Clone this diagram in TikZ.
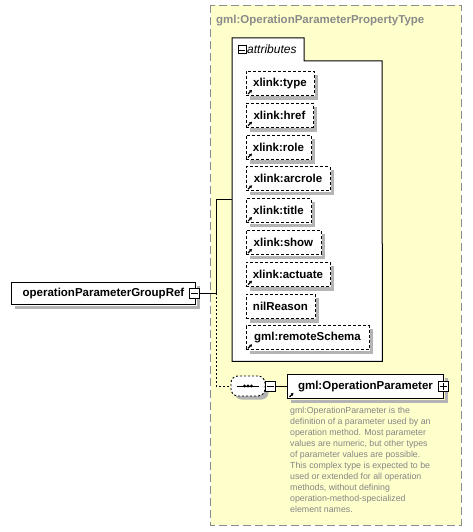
\documentclass[tikz,border=0pt]{standalone}
\usepackage{fontspec}
\setmainfont{Liberation Sans}
\usetikzlibrary{arrows.meta,calc}
\definecolor{boxyellow}{HTML}{FFFFCC}
\definecolor{bordergray}{HTML}{8C8C8C}
\definecolor{titlegray}{HTML}{8A8A8A}
\definecolor{descgray}{HTML}{858585}
\definecolor{shadowgray}{HTML}{B4B4B4}
\tikzset{
  elem/.style={draw=black,fill=white,anchor=north west,inner sep=0pt,minimum height=24,line width=0.9pt,
    font=\bfseries\fontsize{11.5}{13}\selectfont},
  attr/.style={elem,dash pattern=on 3pt off 2pt,minimum height=24},
  refarrow/.style={-{Triangle[length=2.6pt,width=3pt]},line width=1.2pt},
  btn/.style={draw=black,fill=white,line width=1pt,minimum size=10,inner sep=0pt,anchor=center},
  conn/.style={draw=black,line width=0.8pt},
  dconn/.style={draw=black,line width=0.8pt,dash pattern=on 2pt off 2pt},
  shadowfill/.style={fill=shadowgray,draw=none},
}
\newcommand{\refmark}[1]{\draw[refarrow] ($(#1.south west)+(2.5,-2)$) -- ++(4,-4);}
\newcommand{\shadowof}[1]{%
  \fill[shadowfill] ($(#1.north east)+(0.6,4)$) rectangle ($(#1.south east)+(4,4)$);
  \fill[shadowfill] ($(#1.south west)+(4,0.6)$) rectangle ($(#1.south east)+(4,4)$);}
\begin{document}
\begin{tikzpicture}[x=1pt,y=-1pt]
\useasboundingbox (0,0) rectangle (472,532);
% outer complex type box
\draw[bordergray,fill=boxyellow,line width=0.9pt,dash pattern=on 8pt off 4pt] (210.5,5.5) rectangle (461,525);
\node[anchor=north west,inner sep=0pt,text=titlegray,font=\bfseries\fontsize{11.5}{13}\selectfont] (title) at (216,14.5) {gml:OperationParameterPropertyType};
% attributes box
\node[anchor=north west,minimum width=150,minimum height=323,inner sep=0pt] (attrs) at (232,38) {};
\draw[black,fill=white,line width=1pt] (attrs.north west) -- (304,38) -- (304,61) -- (382,61) -- (attrs.south east) -- (attrs.south west) -- cycle;
\node[btn,minimum size=8] (abtn) at (242,50) {};
\draw[line width=0.9pt] ($(abtn.west)+(1.5,0)$) -- ($(abtn.east)+(-1.5,0)$);
\node[anchor=west,inner sep=0pt,font=\itshape\fontsize{12}{14}\selectfont] (atitle) at (247,49.5) {attributes};
% attribute elements
\node[attr,minimum width=68] (a1) at (245.5,71) {xlink:type};
\node[attr,minimum width=67] (a2) at (245.5,102.8) {xlink:href};
\node[attr,minimum width=65] (a3) at (245.5,134.6) {xlink:role};
\node[attr,minimum width=84] (a4) at (245.5,166.4) {xlink:arcrole};
\node[attr,minimum width=65] (a5) at (245.5,198.2) {xlink:title};
\node[attr,minimum width=75] (a6) at (245.5,230) {xlink:show};
\node[attr,minimum width=84] (a7) at (245.5,261.8) {xlink:actuate};
\node[attr,minimum width=69] (a8) at (245.5,293.6) {nilReason};
\node[attr,minimum width=123] (a9) at (245.5,325.4) {gml:remoteSchema};
\foreach \n in {a1,a2,a3,a4,a5,a6,a7,a8,a9} {\shadowof{\n}}
\foreach \n in {a1,a2,a3,a4,a5,a6,a7,a9} {\refmark{\n}}
% group reference element
\node[elem,minimum width=184,minimum height=22] (grp) at (11,282) {operationParameterGroupRef};
\shadowof{grp}
\node[btn] (gbtn) at (194.5,293) {};
\draw[line width=0.9pt] ($(gbtn.west)+(2,0)$) -- ($(gbtn.east)+(-2,0)$);
\coordinate (junc) at (216,293);
% sequence compositor
\fill[shadowgray,rounded corners=7pt] (234.5,379.5) rectangle (268.5,399.5);
\node[draw=black,fill=white,line width=0.9pt,dash pattern=on 2pt off 2pt,rounded corners=7pt,minimum width=34,minimum height=20,inner sep=0pt,anchor=north west] (seq) at (230.5,375.5) {};
\draw[line width=0.9pt] ($(seq.west)+(6,0)$) -- ($(seq.east)+(-6,0)$);
\foreach \dx in {-3.5,0,3.5} {\fill ($(seq.center)+(\dx,0)$) circle (1.6pt);}
\node[btn] (sbtn) at (270,386.5) {};
\draw[line width=0.9pt] ($(sbtn.west)+(2,0)$) -- ($(sbtn.east)+(-2,0)$);
% gml:OperationParameter element
\node[elem,minimum width=156,minimum height=24] (op) at (287,374) {gml:OperationParameter};
\shadowof{op}
\refmark{op}
\node[btn] (obtn) at (443.5,386.5) {};
\draw[line width=0.9pt] ($(obtn.west)+(2,0)$) -- ($(obtn.east)+(-2,0)$);
\draw[line width=0.9pt] ($(obtn.north)+(0,2)$) -- ($(obtn.south)+(0,-2)$);
% description
\node[anchor=north west,inner sep=0pt,align=left,text=descgray,font=\fontsize{8.8}{11}\selectfont] (desc) at (290,407) {gml:OperationParameter is the\\definition of a parameter used by an\\operation method. Most parameter\\values are numeric, but other types\\of parameter values are possible.\\This complex type is expected to be\\used or extended for all operation\\methods, without defining\\operation-method-specialized\\element names.};
% connectors
\draw[conn] (gbtn.east) -- (junc) |- (attrs.west);
\draw[dconn] (junc) |- (seq.west);
\draw[conn] (sbtn.east) -- (op.west |- sbtn.east);
\end{tikzpicture}
\end{document}
